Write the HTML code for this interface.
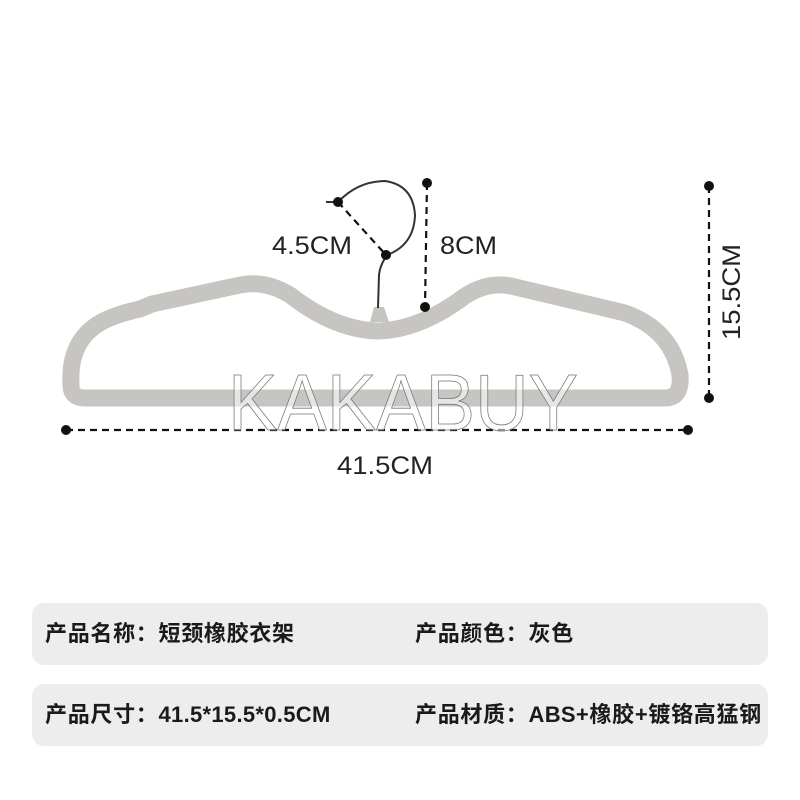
<!DOCTYPE html>
<html><head><meta charset="utf-8"><style>
html,body{margin:0;padding:0;background:#fff;}
.wrap{position:relative;width:800px;height:800px;overflow:hidden;}
.panel{position:absolute;left:32px;width:736px;height:62px;background:#ededed;border-radius:12px;}
.t{position:absolute;font-family:"Liberation Sans","Noto Sans CJK SC",sans-serif;font-weight:bold;font-size:22px;letter-spacing:0.7px;color:#1a1a1a;line-height:22px;white-space:nowrap;}
.t span{letter-spacing:0.3px;}
</style></head><body><div class="wrap">
<svg width="800" height="800" style="position:absolute;left:0;top:0">
<path d="M 71,385 Q 68,335 110,318 Q 122,313 140,309 L 152,304 L 240,285 Q 265,280 290,295 Q 335,330 378,331 Q 420,330 465,296 Q 490,280 515,287 L 600,307 L 625,313 Q 672,330 680,375 Q 682,398 665,398 L 85,398 Q 71,398 71,385 Z" fill="none" stroke="#c6c5c1" stroke-width="17" stroke-linejoin="round"/>
<path d="M 370,322 L 374,307 L 384,307 L 389,322 Z" fill="#c6c5c1"/>
<path d="M 326,202 L 338,202 Q 358,181 385,181 Q 413,185 415,215 Q 414,245 387,255 Q 380,265 379,275 L 378,308" fill="none" stroke="#333" stroke-width="2"/>
<g stroke="#111" stroke-width="2.2" stroke-dasharray="7,5" fill="none">
<line x1="338" y1="202" x2="386" y2="255"/>
<line x1="427" y1="183" x2="425" y2="307"/>
<line x1="709" y1="186" x2="709" y2="398"/>
<line x1="66" y1="430" x2="688" y2="430"/>
</g>
<g fill="#111">
<circle cx="338" cy="202" r="5"/><circle cx="386" cy="255" r="5"/>
<circle cx="427" cy="183" r="5"/><circle cx="425" cy="307" r="5"/>
<circle cx="709" cy="186" r="5"/><circle cx="709" cy="398" r="5"/>
<circle cx="66" cy="430" r="5"/><circle cx="688" cy="430" r="5"/>
</g>
<text x="228" y="430" font-family="Liberation Sans,sans-serif" font-size="80" textLength="350" lengthAdjust="spacingAndGlyphs" fill="rgba(255,255,255,0.55)" stroke="#777" stroke-width="0.8">KAKABUY</text>
<g font-family="Liberation Sans,sans-serif" font-size="25" fill="#222">
<text x="272" y="254" textLength="80" lengthAdjust="spacingAndGlyphs">4.5CM</text>
<text x="440" y="254" textLength="57" lengthAdjust="spacingAndGlyphs">8CM</text>
<text x="337" y="474" textLength="96" lengthAdjust="spacingAndGlyphs">41.5CM</text>
<text transform="translate(740,340) rotate(-90)" x="0" y="0" textLength="96" lengthAdjust="spacingAndGlyphs">15.5CM</text>
</g>
</svg>
<div class="panel" style="top:603px"></div>
<div class="panel" style="top:684px"></div>
<div class="t" style="left:45px;top:623px">产品名称：短颈橡胶衣架</div>
<div class="t" style="left:415px;top:623px">产品颜色：灰色</div>
<div class="t" style="left:45px;top:704px">产品尺寸：<span>41.5*15.5*0.5CM</span></div>
<div class="t" style="left:415px;top:704px">产品材质：<span>ABS</span>+橡胶+镀铬高猛钢</div>
</div></body></html>
